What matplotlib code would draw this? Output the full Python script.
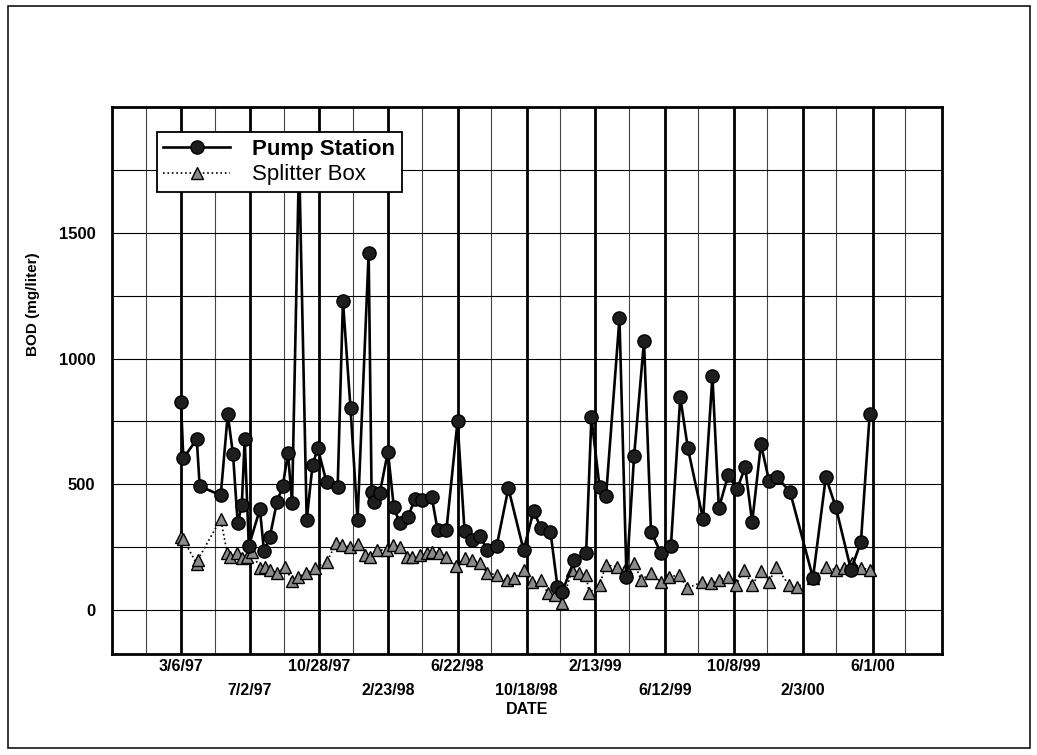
import numpy as np
import pandas as pd
import matplotlib
matplotlib.use('Agg')
import matplotlib.pyplot as plt
from matplotlib.patches import Rectangle

plt.rcParams['font.family'] = ['Liberation Sans', 'DejaVu Sans']

# first sample date, all the other samples are given as days after it
start = pd.Timestamp('1997-03-06')

# Pump Station BOD (mg/liter)
pump_day = [0, 4, 27, 32, 68, 80, 89, 97, 104, 109, 116, 135, 142, 152, 164, 174,
            183, 190, 202, 215, 225, 234, 249, 268, 277, 290, 302, 321, 326, 331,
            340, 354, 364, 374, 388, 400, 413, 429, 439, 454, 473, 485, 497, 511,
            524, 540, 560, 586, 603, 616, 632, 644, 652, 673, 693, 702, 716, 727,
            750, 762, 775, 792, 804, 821, 838, 854, 867, 893, 909, 920, 936, 951,
            965, 977, 992, 1006, 1020, 1042, 1081, 1103, 1120, 1146, 1163, 1178]
pump_bod = [826, 603, 679, 492, 456, 778, 619, 345, 417, 679, 254, 400, 234, 290,
            428, 492, 623, 425, 1800, 357, 575, 643, 508, 488, 1230, 802, 357, 1420,
            468, 428, 464, 630, 409, 345, 369, 440, 436, 448, 317, 317, 750, 313,
            278, 294, 238, 254, 484, 238, 393, 325, 310, 92, 71, 198, 226, 766, 488,
            452, 1160, 131, 611, 1070, 310, 226, 254, 846, 643, 361, 929, 405, 536,
            480, 567, 349, 659, 512, 528, 468, 127, 528, 409, 159, 270, 778]

# Splitter Box BOD (mg/liter)
split_day = [0, 4, 27, 29, 68, 79, 84, 96, 104, 113, 121, 135, 143, 152, 164, 178,
             190, 200, 214, 229, 249, 266, 275, 289, 302, 314, 323, 336, 352, 362,
             374, 386, 396, 408, 420, 430, 442, 454, 471, 485, 497, 511, 524, 540,
             557, 570, 587, 601, 616, 627, 639, 652, 669, 681, 693, 698, 716, 727,
             746, 762, 775, 787, 804, 821, 835, 852, 866, 892, 907, 920, 936, 949,
             963, 977, 992, 1006, 1018, 1040, 1054, 1081, 1103, 1120, 1134, 1148,
             1163, 1178]
split_bod = [290, 280, 183, 200, 361, 226, 210, 226, 206, 210, 230, 167, 171, 159,
             147, 171, 115, 131, 147, 167, 190, 266, 258, 250, 262, 218, 210, 238,
             238, 258, 250, 210, 210, 218, 226, 230, 226, 210, 175, 206, 198, 187,
             147, 139, 119, 127, 159, 111, 119, 67, 60, 28, 159, 147, 139, 67, 99,
             179, 171, 167, 187, 119, 147, 111, 131, 139, 87, 111, 107, 119, 131, 99,
             159, 99, 155, 111, 171, 99, 91, 127, 171, 159, 167, 187, 167, 159]

date_labels = ['3/6/97', '7/2/97', '10/28/97', '2/23/98', '6/22/98', '10/18/98',
               '2/13/99', '6/12/99', '10/8/99', '2/3/00', '6/1/00']
y_labels = [0, 500, 1000, 1500]

pump_date = start + pd.to_timedelta(pump_day, unit='D')
split_date = start + pd.to_timedelta(split_day, unit='D')
tick_dates = pd.to_datetime(date_labels, format='%m/%d/%y')
step = pd.Timedelta(days=118)

fig = plt.figure(figsize=(10.37, 7.55), dpi=100)
ax = fig.add_axes([0.108, 0.134, 0.8, 0.724])

ax.plot(pump_date, pump_bod, color='black', lw=1.9, marker='o', markersize=9.5,
        markerfacecolor='#1e1e1e', markeredgecolor='black', label='Pump Station', zorder=3)
ax.plot(split_date, split_bod, color='black', lw=1.2, ls=':', marker='^', markersize=9,
        markerfacecolor='#8a8a8a', markeredgecolor='black', markeredgewidth=1.0,
        label='Splitter Box', zorder=2)

ax.set_xlim(tick_dates[0] - step, tick_dates[-1] + step)
ax.set_ylim(-175, 2000)

# labelled dates get heavy lines, the halfway dates light ones
ax.set_xticks(tick_dates)
ax.set_xticklabels(date_labels)
minor_dates = pd.date_range(tick_dates[0] - step / 2, periods=12, freq='118D')
ax.set_xticks(minor_dates, minor=True)
ax.set_yticks(y_labels)
ax.set_yticks(np.arange(0, 2000, 250), minor=True)
ax.set_axisbelow(True)
ax.grid(which='major', axis='x', color='black', lw=2.0)
ax.grid(which='minor', axis='x', color='#444444', lw=0.8)
ax.grid(which='both', axis='y', color='black', lw=0.8)

ax.tick_params(which='both', length=0)
ax.tick_params(axis='y', pad=12, labelsize=12)
ax.tick_params(axis='x', labelsize=11.5)
for lab in ax.get_xticklabels() + ax.get_yticklabels():
    lab.set_fontweight('bold')
# staggered date labels
for i, t in enumerate(ax.xaxis.get_major_ticks()):
    t.set_pad(4 if i % 2 == 0 else 21)

for s in ax.spines.values():
    s.set_linewidth(2.0)
    s.set_color('black')

ax.set_xlabel('DATE', fontsize=11.5, fontweight='bold', labelpad=3)
ax.set_ylabel('BOD (mg/liter)', fontsize=11, fontweight='bold')
ax.yaxis.set_label_coords(-0.087, 0.64)

leg = ax.legend(loc='upper left', bbox_to_anchor=(0.054, 0.954), borderaxespad=0,
                fontsize=16, handlelength=3.0, handletextpad=1.0, fancybox=False,
                framealpha=1, edgecolor='black', borderpad=0.3, labelspacing=0.2)
leg.get_frame().set_linewidth(1.3)
leg.get_texts()[0].set_fontweight('bold')

# border round the whole picture
fig.patches.append(Rectangle((0.008, 0.009), 0.985, 0.983, transform=fig.transFigure,
                             fill=False, edgecolor='black', lw=1.1))

fig.savefig('out.png', dpi=100)
